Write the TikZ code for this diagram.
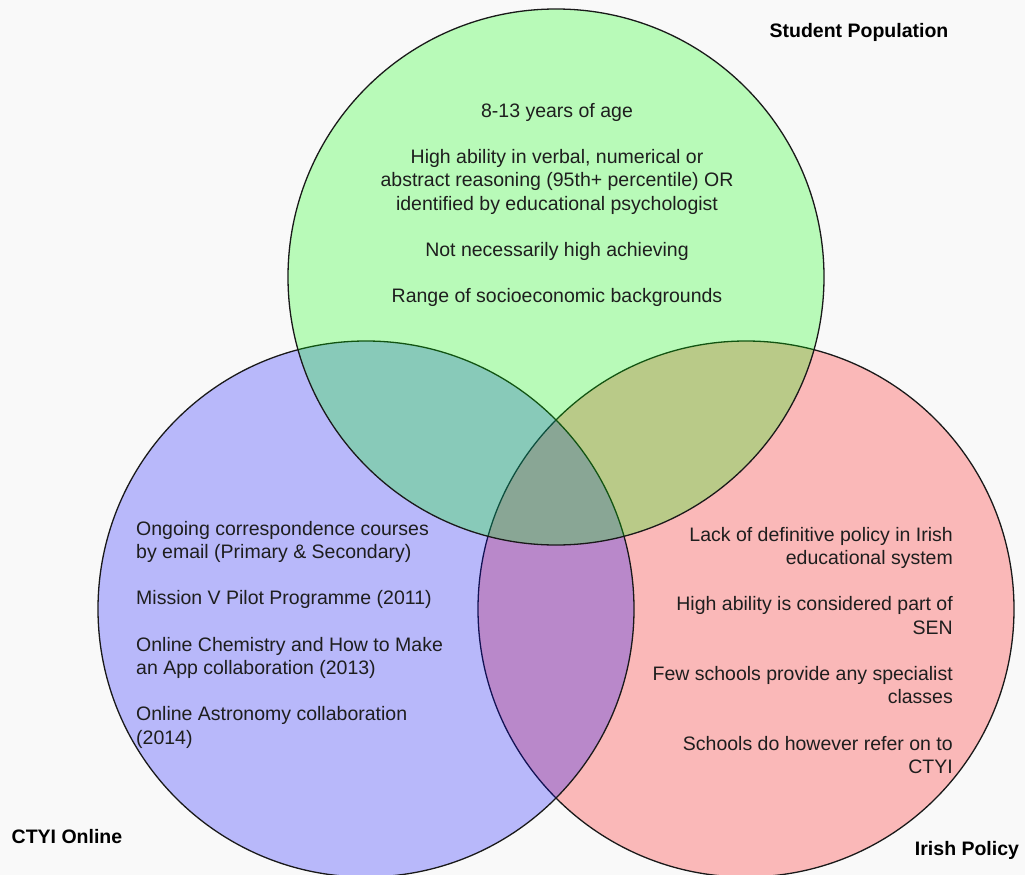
\documentclass[tikz,border=0pt]{standalone}
\usepackage{fontspec}
\setmainfont{Liberation Sans}
\usepackage{xcolor}
\definecolor{bgpage}{HTML}{F9F9F9}
\definecolor{txt}{HTML}{1E1E1E}
\begin{document}
\begin{tikzpicture}[
    x=1pt, y=-1pt,
    font=\fontsize{19.5}{23.3}\selectfont,
    set/.style   = {circle, draw=black!90, line width=1.3pt,
                    fill opacity=0.26, minimum size=536pt},
    items/.style = {inner sep=0pt, text=txt},
    title/.style = {inner sep=0pt, text=black,
                    font=\fontsize{19.5}{23}\selectfont\bfseries},
]

%% ── Page ─────────────────────────────────────────────────────────────────
\path[fill=bgpage] (0,0) rectangle (1025,875);
\useasboundingbox (0,0) rectangle (1025,875);

%% ── Sets (red, blue, then green on top) ──────────────────────────────────
\node[set, fill=red]   (policy) at (746,609) {};
\node[set, fill=blue]  (online) at (366,609) {};
\node[set, fill=green] (pop)    at (556,277) {};

%% ── Student Population ───────────────────────────────────────────────────
\node[items, align=center, anchor=north] (popTxt) at (557,103)
  {8-13 years of age\\[23pt]
   High ability in verbal, numerical or\\
   abstract reasoning (95th+ percentile) OR\\
   identified by educational psychologist\\[23pt]
   Not necessarily high achieving\\[23pt]
   Range of socioeconomic backgrounds};
\node[title] (popLbl) at (859,32) {Student Population};

%% ── CTYI Online ──────────────────────────────────────────────────────────
\node[items, align=left, anchor=north west] (onlineTxt) at (136,521)
  {Ongoing correspondence courses\\
   by email (Primary \& Secondary)\\[23pt]
   Mission V Pilot Programme (2011)\\[23pt]
   Online Chemistry and How to Make\\
   an App collaboration (2013)\\[23pt]
   Online Astronomy collaboration\\
   (2014)};
\node[title] (onlineLbl) at (67,837) {CTYI Online};

%% ── Irish Policy ─────────────────────────────────────────────────────────
\node[items, align=right, anchor=north east] (policyTxt) at (953,527)
  {Lack of definitive policy in Irish\\
   educational system\\[23pt]
   High ability is considered part of\\
   SEN\\[23pt]
   Few schools provide any specialist\\
   classes\\[23pt]
   Schools do however refer on to\\
   CTYI};
\node[title] (policyLbl) at (967,850) {Irish Policy};

\end{tikzpicture}
\end{document}
